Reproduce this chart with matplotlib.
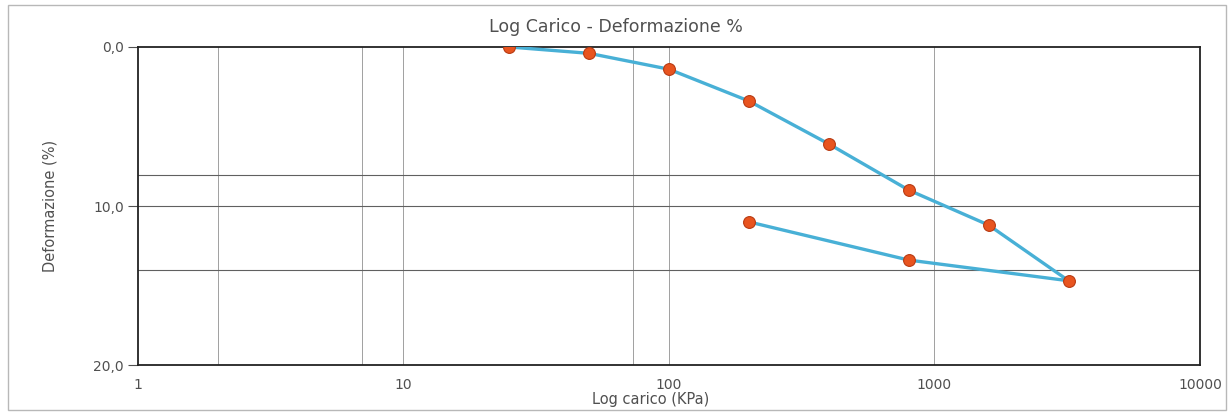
import numpy as np
import matplotlib.pyplot as plt
from matplotlib.patches import Rectangle
from matplotlib.ticker import FixedLocator, NullLocator, FuncFormatter

plt.rcParams['font.family'] = ['DejaVu Sans']

# Load steps and deformation readings (loading then unloading)
carico = [25, 50, 100, 200, 400, 800, 1600, 3200, 800, 200]
deformazione = [0.0, 0.4, 1.4, 3.4, 6.1, 9.0, 11.2, 14.7, 13.4, 11.0]

x_ticks = [1, 10, 100, 1000, 10000]
x_tick_labels = ["1", "10", "100", "1000", "10000"]
y_ticks = [0, 10, 20]
v_grid = [2, 7, 10, 73, 100, 1000]
h_grid = [8.05, 10, 14.0]

line_color = "#48b0d6"
marker_color = "#e8541f"
marker_edge = "#b83a12"
text_color = "#505050"

fig = plt.figure(figsize=(12.32, 4.12), dpi=100)
ax = fig.add_axes([0.112, 0.114, 0.862, 0.772])

# outer frame of the chart
fig.patches.append(Rectangle((8 / 1232, 2 / 412), 1218 / 1232, 405 / 412,
                             transform=fig.transFigure, fill=False,
                             edgecolor="#b8b8b8", linewidth=1.0))

ax.set_xscale("log")
ax.set_xlim(1, 10000)
ax.set_ylim(20, 0)

for gx in v_grid:
    ax.axvline(gx, color="#a0a0a0", linewidth=0.7, zorder=1)
for gy in h_grid:
    ax.axhline(gy, color="#606060", linewidth=0.8, zorder=1)

ax.plot(carico, deformazione, color=line_color, linewidth=2.4, zorder=3)
ax.plot(carico, deformazione, linestyle="none", marker="o", markersize=8.5,
        markerfacecolor=marker_color, markeredgecolor=marker_edge,
        markeredgewidth=0.8, zorder=4)

ax.xaxis.set_major_locator(FixedLocator(x_ticks))
ax.xaxis.set_minor_locator(NullLocator())
ax.set_xticklabels(x_tick_labels)
ax.yaxis.set_major_locator(FixedLocator(y_ticks))
ax.yaxis.set_major_formatter(FuncFormatter(lambda v, p: f"{v:.1f}".replace(".", ",")))

ax.tick_params(axis="x", length=0, pad=9, labelsize=10, colors=text_color)
ax.tick_params(axis="y", length=7, width=0.8, pad=3, labelsize=10, colors=text_color)

for side in ["top", "bottom", "left", "right"]:
    ax.spines[side].set_color("#222222")
    ax.spines[side].set_linewidth(1.3)

ax.set_ylabel("Deformazione (%)", fontsize=10.5, color=text_color, labelpad=26)
fig.text(0.528, 0.031, "Log carico (KPa)", ha="center", va="center",
         fontsize=10.5, color=text_color)
fig.text(0.5, 0.934, "Log Carico - Deformazione %", ha="center", va="center",
         fontsize=12.5, color=text_color)

fig.savefig("out.png", dpi=100)
